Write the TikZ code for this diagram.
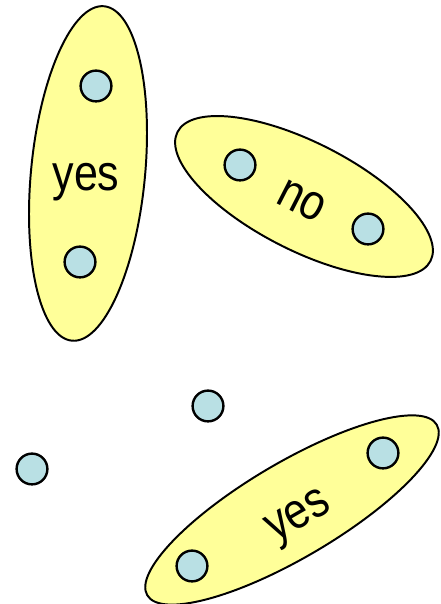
\documentclass[tikz,border=0pt]{standalone}
\usepackage{fontspec}
\usepackage{graphicx}
\setmainfont{Liberation Sans}
\definecolor{blobyellow}{RGB}{255,255,153}
\definecolor{dotblue}{RGB}{185,224,228}
\tikzset{
  blob/.style={draw=black, fill=blobyellow, line width=1.4pt},
  dot/.style={circle, draw=black, fill=dotblue, line width=1.7pt, minimum size=0.77cm, inner sep=0pt},
  word/.style={font=\fontsize{36}{40}\selectfont, inner sep=0pt}
}
\begin{document}
\begin{tikzpicture}
\useasboundingbox (0,0) rectangle (11.0,15.100);
\draw[blob, rotate around={-5.5:(2.200,10.763)}] (2.200,10.763) ellipse [x radius=1.425, y radius=4.200];
\draw[blob, rotate around={-27:(7.600,10.188)}] (7.600,10.188) ellipse [x radius=3.550, y radius=1.350];
\draw[blob, rotate around={30.5:(7.300,2.350)}] (7.300,2.350) ellipse [x radius=4.200, y radius=1.190];
\node[dot] (yesA1) at (2.400,12.950) {};
\node[dot] (yesA2) at (2.000,8.550) {};
\node[dot] (noB1) at (6.000,10.975) {};
\node[dot] (noB2) at (9.200,9.375) {};
\node[dot] (yesC1) at (9.575,3.775) {};
\node[dot] (yesC2) at (4.800,0.950) {};
\node[dot] (loneA) at (5.200,4.950) {};
\node[dot] (loneB) at (0.800,3.375) {};
\node[word] (lblyesA) at (2.150,10.538) {\scalebox{0.85}[1]{yes}};
\node[word, rotate=-27] (lblno) at (7.550,10.075) {\scalebox{0.85}[1]{no}};
\node[word, rotate=30] (lblyesC) at (7.500,2.125) {\scalebox{0.85}[1]{yes}};
\end{tikzpicture}
\end{document}
